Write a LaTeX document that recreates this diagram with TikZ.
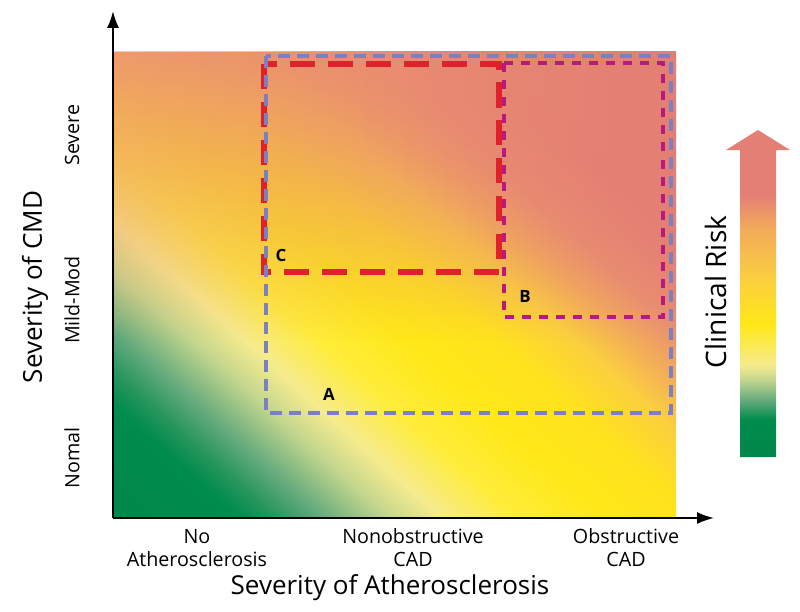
\documentclass[tikz,border=0pt]{standalone}
\usepackage{fontspec}
\setsansfont{Open Sans}
\usetikzlibrary{arrows.meta, fadings}
% field colours
\definecolor{fieldgreen}{RGB}{0,135,74}
\definecolor{fieldgreenb}{RGB}{0,140,76}
\definecolor{fieldgreenc}{RGB}{40,150,95}
\definecolor{fieldmid}{RGB}{100,170,125}
\definecolor{fieldpale}{RGB}{195,214,142}
\definecolor{fieldcream}{RGB}{246,235,142}
\definecolor{fieldyellow}{RGB}{255,236,58}
\definecolor{fieldyellowb}{RGB}{255,232,24}
\definecolor{fieldyellowc}{RGB}{255,226,30}
\definecolor{fieldgold}{RGB}{251,207,62}
\definecolor{fieldorange}{RGB}{243,172,90}
\definecolor{fieldsalmon}{RGB}{234,144,112}
\definecolor{fieldpink}{RGB}{228,127,117}
\definecolor{topleft}{RGB}{238,154,108}
\definecolor{topright}{RGB}{228,126,116}
% zone colours
\definecolor{zoneA}{RGB}{122,128,194}
\definecolor{zoneB}{RGB}{184,25,126}
\definecolor{zoneC}{RGB}{224,32,42}
% 25bp = diagonal through the lower left corner, 1bp = 16 units
\pgfdeclareverticalshading{riskfield}{100bp}{%
  color(0bp)=(fieldgreen); color(25bp)=(fieldgreen);
  color(30.31bp)=(fieldgreenb); color(31.88bp)=(fieldgreenc);
  color(33.75bp)=(fieldmid); color(36.56bp)=(fieldpale);
  color(38.75bp)=(fieldcream); color(41.88bp)=(fieldyellow);
  color(45.63bp)=(fieldyellowb); color(49.38bp)=(fieldyellowc);
  color(52.63bp)=(fieldgold); color(55bp)=(fieldorange);
  color(57.31bp)=(fieldsalmon); color(61.25bp)=(fieldpink);
  color(100bp)=(fieldpink)}
\pgfdeclareverticalshading{riskbar}{100bp}{%
  color(0bp)=(fieldgreen); color(25bp)=(fieldgreen);
  color(30.7bp)=(fieldgreenb); color(33.7bp)=(fieldmid);
  color(36.8bp)=(fieldpale); color(39.1bp)=(fieldcream);
  color(45.2bp)=(fieldyellowb); color(52.1bp)=(fieldgold);
  color(59.7bp)=(fieldorange); color(65.1bp)=(fieldpink);
  color(100bp)=(fieldpink)}
\tikzfading[name=fadedown, top color=transparent!0, bottom color=transparent!100]

\begin{document}
\begin{tikzpicture}[x=0.025cm, y=-0.025cm,
  axisline/.style={-{Latex[length=12pt, width=8.5pt]}, line width=1.4pt, black},
  ticklabel/.style={font=\fontsize{14}{16.5}\selectfont\sffamily, align=center, inner sep=0pt},
  axistitle/.style={font=\fontsize{18.5}{22}\selectfont\sffamily, inner sep=0pt},
  zonelabel/.style={font=\fontsize{12}{14}\selectfont\sffamily\bfseries, inner sep=0pt},
  zonebox/.style={line width=#1, line cap=butt, line join=miter},
  boxA/.style={zonebox=2.8pt, draw=zoneA, dash pattern=on 8.5pt off 5pt},
  boxB/.style={zonebox=2.8pt, draw=zoneB, dash pattern=on 6.4pt off 5.7pt},
  boxC/.style={zonebox=4.3pt, draw=zoneC, dash pattern=on 17.8pt off 9.2pt}
]
\useasboundingbox (0,0) rectangle (800,611);

% risk field
\begin{scope}
  \clip (113,52) rectangle (676,518);
  \begin{scope}[transform canvas={rotate around={-42:(113,518)}}]
    \shade[shading=riskfield] (-587,518) rectangle (1013,-282);
  \end{scope}
  \shade[left color=topleft, right color=topright, path fading=fadedown]
    (113,52) rectangle (676,340);
\end{scope}

% zones
\draw[boxC] (264,64) rectangle (499,272);
\draw[boxB] (504,63) rectangle (663,317);
\draw[boxA] (266,56) rectangle (671,413);
\node[zonelabel] (labelC) at (281,255) {C};
\node[zonelabel] (labelB) at (525,296) {B};
\node[zonelabel] (labelA) at (329,394) {A};

% axes
\coordinate (origin) at (113,518);
\coordinate (ytip) at (113,11);
\coordinate (xtip) at (714,518);
\draw[axisline] (origin) -- (ytip);
\draw[axisline] (origin) -- (xtip);

% tick labels
\node[ticklabel] (noath) at (197,548) {No\\Atherosclerosis};
\node[ticklabel] (nonobs) at (413,548) {Nonobstructive\\CAD};
\node[ticklabel] (obs) at (626,548) {Obstructive\\CAD};
\node[ticklabel, rotate=90] (severe) at (72,135) {Severe};
\node[ticklabel, rotate=90] (mildmod) at (72,300) {Mild-Mod};
\node[ticklabel, rotate=90] (nomal) at (72,458) {Nomal};

% titles
\node[axistitle] (xtitle) at (390,588) {Severity of Atherosclerosis};
\node[axistitle, rotate=90] (ytitle) at (35,287) {Severity of CMD};

% clinical risk arrow
\shade[shading=riskbar] (740,457) -- (740,150) -- (726,150) -- (758,130)
  -- (790,150) -- (776,150) -- (776,457) -- cycle;
\node[font=\fontsize{20}{24}\selectfont\sffamily, rotate=90, inner sep=0pt]
  (risk) at (716,292) {Clinical Risk};
\end{tikzpicture}
\end{document}
